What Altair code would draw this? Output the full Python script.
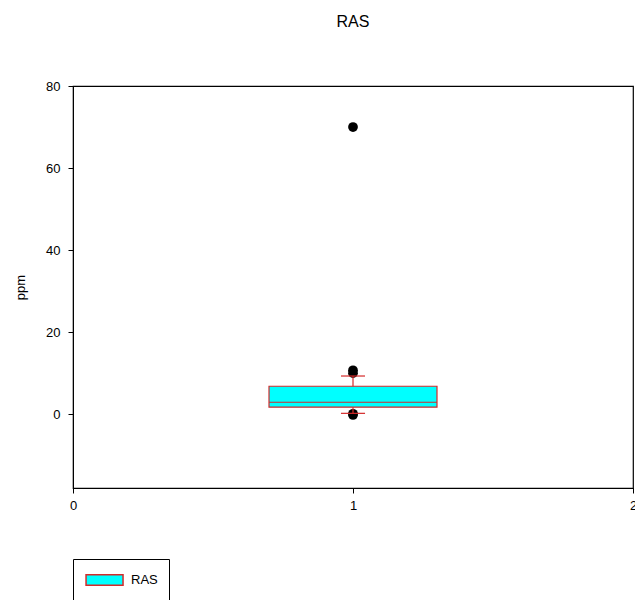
import altair as alt
import pandas as pd

# Box plot summary for the RAS series (ppm)
series = ["RAS"]
positions = [1]
q1 = [1.7]
median = [2.9]
q3 = [6.8]
whisker_low = [0.2]
whisker_high = [9.3]

# Points beyond the whiskers
outlier_values = [70.0, 10.7, 10.0, 0.1, -0.2]

y_ticks = [0, 20, 40, 60, 80]
x_ticks = [0, 1, 2]

BOX_HALF = 0.3
CAP_HALF = 0.043
RED = "#d42a2a"
CYAN = "#00ffff"
FONT = "Liberation Sans"

box_df = pd.DataFrame({
    "series": series, "pos": positions, "q1": q1, "median": median,
    "q3": q3, "lo": whisker_low, "hi": whisker_high,
})
out_df = pd.DataFrame({"pos": [positions[0]] * len(outlier_values), "value": outlier_values})

x_scale = alt.Scale(domain=[0, 2], nice=False, zero=False)
y_scale = alt.Scale(domain=[-18, 80], nice=False, zero=False)

x_axis = alt.Axis(values=x_ticks, title=None, grid=False, format=".0f",
                  labelOverlap=False, labelFlush=False,
                  tickSize=5, labelPadding=6, domainColor="black", tickColor="black",
                  labelColor="black", labelFont=FONT, labelFontSize=13)
y_axis = alt.Axis(values=y_ticks, title="ppm", grid=False, format=".0f",
                  labelOverlap=False, labelFlush=False,
                  tickSize=5, labelPadding=8, domainColor="black", tickColor="black",
                  labelColor="black", labelFont=FONT, labelFontSize=13,
                  titleFont=FONT, titleFontSize=13, titleFontWeight="normal",
                  titleColor="black", titlePadding=18)

base = alt.Chart(box_df)

# Outliers carry the axes; the other layers share the same scales
points = alt.Chart(out_df).mark_circle(color="black", opacity=1, size=95).encode(
    x=alt.X("pos:Q", scale=x_scale, axis=x_axis),
    y=alt.Y("value:Q", scale=y_scale, axis=y_axis),
)

whisker = base.mark_rule(color=RED, strokeWidth=1.2).encode(
    x=alt.X("pos:Q", scale=x_scale),
    y=alt.Y("lo:Q", scale=y_scale),
    y2="hi:Q",
)

caps_lo = base.transform_calculate(
    a=f"datum.pos - {CAP_HALF}", b=f"datum.pos + {CAP_HALF}"
).mark_rule(color=RED, strokeWidth=1.2).encode(
    x=alt.X("a:Q", scale=x_scale), x2="b:Q",
    y=alt.Y("lo:Q", scale=y_scale)
)
caps_hi = base.transform_calculate(
    a=f"datum.pos - {CAP_HALF}", b=f"datum.pos + {CAP_HALF}"
).mark_rule(color=RED, strokeWidth=1.2).encode(
    x=alt.X("a:Q", scale=x_scale), x2="b:Q",
    y=alt.Y("hi:Q", scale=y_scale)
)

# Legend swatch: a wide rectangle path, shifted right so it sits inside the frame
swatch_path = "M-0.86,-0.56L3.14,-0.56L3.14,0.56L-0.86,0.56Z"

box = base.transform_calculate(
    a=f"datum.pos - {BOX_HALF}", b=f"datum.pos + {BOX_HALF}"
).mark_rect(stroke=RED, strokeWidth=1.2, opacity=1).encode(
    x=alt.X("a:Q", scale=x_scale), x2="b:Q",
    y=alt.Y("q1:Q", scale=y_scale), y2="q3:Q",
    color=alt.Color(
        "series:N",
        scale=alt.Scale(domain=series, range=[CYAN]),
        legend=alt.Legend(
            title=None, orient="none", legendX=0, legendY=473,
            direction="vertical",
            symbolType=swatch_path,
            symbolSize=342, symbolStrokeColor=RED, symbolStrokeWidth=1.5,
            symbolOpacity=1,
            labelFont=FONT, labelFontSize=13, labelColor="black", labelOffset=27,
            strokeColor="black", padding=11, fillColor="white",
        ),
    ),
)

med = base.transform_calculate(
    a=f"datum.pos - {BOX_HALF}", b=f"datum.pos + {BOX_HALF}"
).mark_rule(color=RED, strokeWidth=1.2).encode(
    x=alt.X("a:Q", scale=x_scale), x2="b:Q",
    y=alt.Y("median:Q", scale=y_scale)
)

chart = alt.layer(points, whisker, caps_lo, caps_hi, box, med).properties(
    width=560, height=402,
    title=alt.Title("RAS", font=FONT, fontSize=16, fontWeight="normal",
                    color="black", anchor="middle", frame="group", offset=50),
    autosize=alt.AutoSizeParams(type="none"),
    padding={"left": 73, "top": 86, "right": 2, "bottom": 112},
    background="white",
).configure_view(stroke="black", strokeWidth=1.2)

chart.save("out.html", embed_options={"renderer": "svg", "actions": False})
